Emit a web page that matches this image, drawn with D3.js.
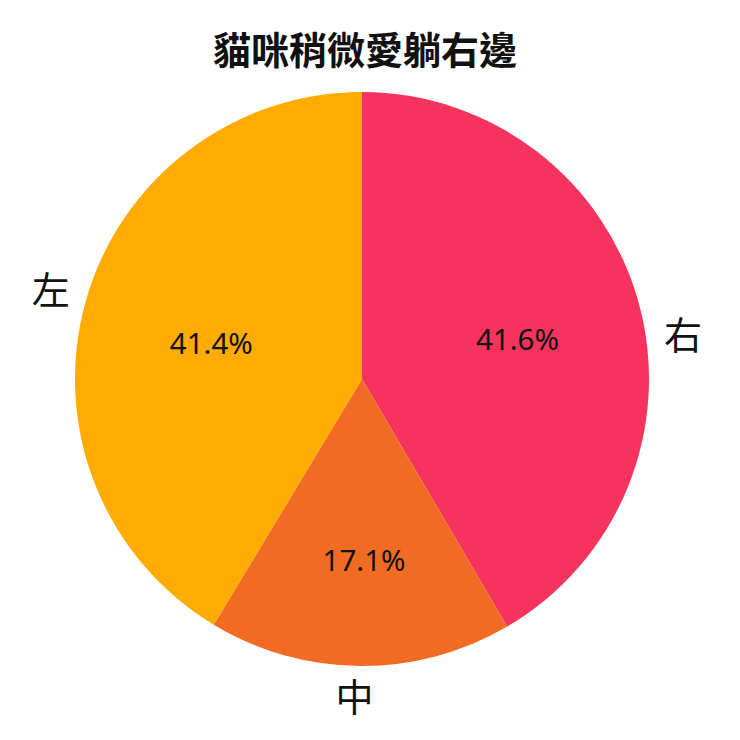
<!DOCTYPE html>
<html>
<head>
<meta charset="utf-8">
<script src="https://cdn.jsdelivr.net/npm/d3@7"></script>
<style>
  html, body { margin: 0; padding: 0; background: #fff; }
  svg { display: block; }
</style>
</head>
<body>
<svg id="chart" width="740" height="740"></svg>
<script>
const titleText = "貓咪稍微愛躺右邊";
const categories = ["右", "中", "左"];
const values = [41.6, 17.1, 41.4];
const colors = ["#F5335D", "#F26B22", "#FFAB00"];

const W = 740, H = 740;
const cx = 362, cy = 379, R = 287;

const svg = d3.select("#chart");

svg.append("text")
  .attr("x", 365).attr("y", 47)
  .attr("text-anchor", "middle")
  .attr("dominant-baseline", "central")
  .style("font-family", "'Noto Sans CJK TC', 'Noto Sans CJK SC', sans-serif")
  .style("font-weight", "bold")
  .style("font-size", "38px")
  .attr("fill", "#111")
  .text(titleText);

const data = categories.map((c, i) => ({ cat: c, value: values[i], color: colors[i] }));

const pie = d3.pie().value(d => d.value).sort(null).startAngle(0).endAngle(2 * Math.PI);
const arcs = pie(data);
const arc = d3.arc().innerRadius(0).outerRadius(R);

const g = svg.append("g").attr("transform", `translate(${cx},${cy})`);

g.selectAll("path.slice").data(arcs).enter().append("path")
  .attr("class", "slice")
  .attr("d", arc)
  .attr("fill", d => d.data.color);

// percentage labels inside (radius factor per slice, angle nudge in degrees)
const pctRadius = [0.56, 0.63, 0.54];
const pctAngleNudge = [0.5, -1, -2];
g.selectAll("text.pct").data(arcs).enter().append("text")
  .attr("class", "pct")
  .attr("transform", (d, i) => {
    const a = (d.startAngle + d.endAngle) / 2 + pctAngleNudge[i] * Math.PI / 180;
    const r = R * pctRadius[i];
    return `translate(${r * Math.sin(a)},${-r * Math.cos(a)})`;
  })
  .attr("text-anchor", "middle")
  .attr("dominant-baseline", "central")
  .style("font-family", "'Noto Sans', 'Open Sans', sans-serif")
  .style("font-size", "29.5px")
  .attr("fill", "#111")
  .text(d => d3.format(".1f")(d.data.value) + "%");

// category labels outside
const lblRadius = [1.13, 1.10, 1.13];
const lblAngleNudge = [7, 1, 0.8];
g.selectAll("text.lbl").data(arcs).enter().append("text")
  .attr("class", "lbl")
  .attr("transform", (d, i) => {
    const a = (d.startAngle + d.endAngle) / 2 + lblAngleNudge[i] * Math.PI / 180;
    const r = R * lblRadius[i];
    return `translate(${r * Math.sin(a)},${-r * Math.cos(a)})`;
  })
  .attr("text-anchor", "middle")
  .attr("dominant-baseline", "central")
  .style("font-family", "'Noto Sans CJK TC', 'Noto Sans CJK SC', sans-serif")
  .style("font-size", "38px")
  .attr("fill", "#111")
  .text(d => d.data.cat);
</script>
</body>
</html>
